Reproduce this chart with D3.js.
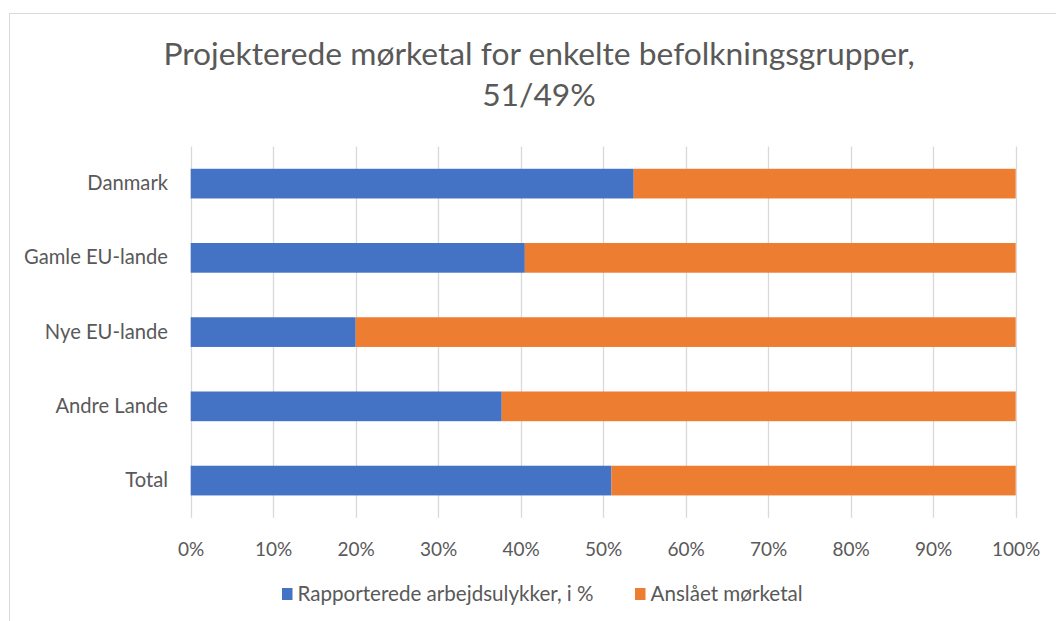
<!DOCTYPE html>
<html>
<head>
<meta charset="utf-8">
<script src="https://cdn.jsdelivr.net/npm/d3@7"></script>
<style>
  html, body { margin: 0; padding: 0; background: #fff; }
  svg { display: block; font-family: Lato, "Open Sans", sans-serif; }
</style>
</head>
<body>
<svg id="chart" width="1056" height="621"></svg>
<script>
const categories = ["Danmark", "Gamle EU-lande", "Nye EU-lande", "Andre Lande", "Total"];
const reported = [53.7, 40.5, 20.0, 37.7, 51.0];
const estimated = [46.3, 59.5, 80.0, 62.3, 49.0];
const seriesNames = ["Rapporterede arbejdsulykker, i %", "Anslået mørketal"];
const seriesColors = ["#4472C4", "#ED7D31"];
const tickValues = [0, 10, 20, 30, 40, 50, 60, 70, 80, 90, 100];
const titleLines = ["Projekterede mørketal for enkelte befolkningsgrupper,", "51/49%"];

const svg = d3.select("#chart");
const textColor = "#595959";

// chart frame
svg.append("rect").attr("x", 9.5).attr("y", 13.5).attr("width", 1100).attr("height", 700)
  .attr("fill", "#fff").attr("stroke", "#d9d9d9").attr("stroke-width", 1);

const x = d3.scaleLinear().domain([0, 100]).range([190.7, 1015.7]);
const y = d3.scaleBand().domain(categories).range([146.5, 517.7]).paddingInner(0.6).paddingOuter(0.3);

// gridlines
svg.append("g").selectAll("line").data(tickValues).join("line")
  .attr("x1", d => Math.round(x(d)) + 0.5).attr("x2", d => Math.round(x(d)) + 0.5)
  .attr("y1", 146.5).attr("y2", 517.7)
  .attr("stroke", "#d9d9d9").attr("stroke-width", 1.3);

// stacked data
const rows = categories.map((c, i) => ({ cat: c, a: reported[i], b: estimated[i] }));
const stack = d3.stack().keys(["a", "b"])(rows);

svg.append("g").selectAll("g").data(stack).join("g")
  .attr("fill", (d, i) => seriesColors[i])
  .selectAll("rect").data(d => d).join("rect")
  .attr("x", d => x(d[0]))
  .attr("width", d => x(d[1]) - x(d[0]))
  .attr("y", d => y(d.data.cat))
  .attr("height", y.bandwidth());

// x axis tick labels
const xAxis = d3.axisBottom(x).tickValues(tickValues).tickFormat(d => d + "%").tickSize(0).tickPadding(0);
const gx = svg.append("g").attr("transform", "translate(0,542)").call(xAxis);
gx.select(".domain").remove();
gx.selectAll("text").attr("fill", textColor).attr("font-size", 19).attr("font-family", "Lato, sans-serif");

// y axis category labels
const yAxis = d3.axisLeft(y).tickSize(0).tickPadding(0);
const gy = svg.append("g").attr("transform", "translate(168,0)").call(yAxis);
gy.select(".domain").remove();
gy.selectAll("text").attr("fill", textColor).attr("font-size", 20.2).attr("font-family", "Lato, sans-serif");

// title
svg.append("g").selectAll("text").data(titleLines).join("text")
  .attr("x", 539).attr("y", (d, i) => 65 + i * 41)
  .attr("text-anchor", "middle").attr("fill", textColor)
  .attr("font-size", 31.8).text(d => d);

// legend
const legendX = [282, 635];
const lg = svg.append("g").selectAll("g").data(seriesNames).join("g")
  .attr("transform", (d, i) => `translate(${legendX[i]},588)`);
lg.append("rect").attr("width", 10.5).attr("height", 12).attr("fill", (d, i) => seriesColors[i]);
lg.append("text").attr("x", 15.5).attr("y", 13).attr("fill", textColor)
  .attr("font-size", 20.6).text(d => d);
</script>
</body>
</html>
